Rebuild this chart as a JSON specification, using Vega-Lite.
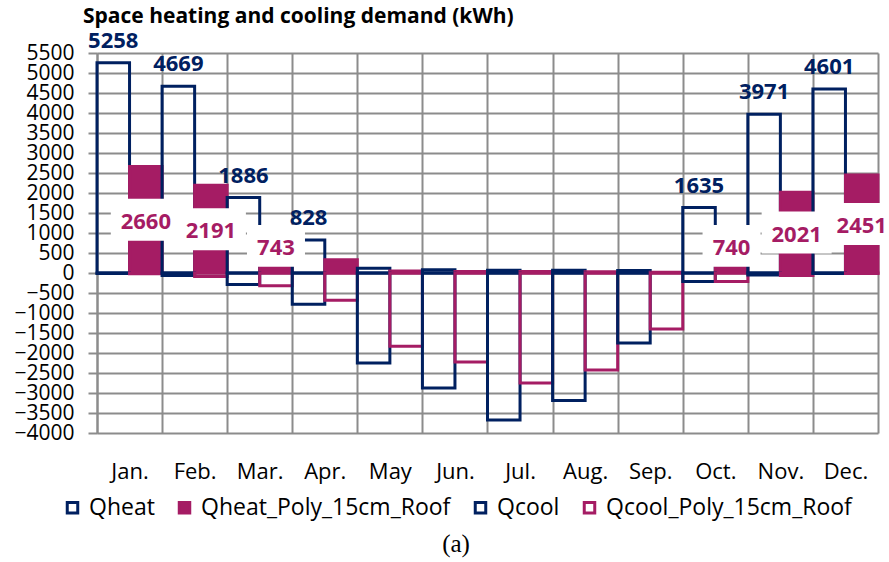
{
  "$schema": "https://vega.github.io/schema/vega-lite/v6.json",
  "width": 781,
  "height": 380,
  "autosize": {"type": "none"},
  "padding": {"left": 97, "top": 53, "right": 11, "bottom": 129},
  "background": "white",
  "title": {"text": "Space heating and cooling demand (kWh)", "anchor": "start", "frame": "group", "dx": -14, "offset": 3, "font": "Open Sans", "fontSize": 21, "fontWeight": "bold", "color": "black"},
  "data": {"values": [
    {"month": "Jan.", "Qheat": 5258, "Qheat_Poly_15cm_Roof": 2660, "Qcool": -10, "Qcool_Poly_15cm_Roof": -20},
    {"month": "Feb.", "Qheat": 4669, "Qheat_Poly_15cm_Roof": 2191, "Qcool": -60, "Qcool_Poly_15cm_Roof": -90},
    {"month": "Mar.", "Qheat": 1886, "Qheat_Poly_15cm_Roof": 743, "Qcool": -290, "Qcool_Poly_15cm_Roof": -320},
    {"month": "Apr.", "Qheat": 828, "Qheat_Poly_15cm_Roof": 330, "Qcool": -780, "Qcool_Poly_15cm_Roof": -680},
    {"month": "May", "Qheat": 120, "Qheat_Poly_15cm_Roof": 50, "Qcool": -2250, "Qcool_Poly_15cm_Roof": -1830},
    {"month": "Jun.", "Qheat": 80, "Qheat_Poly_15cm_Roof": 40, "Qcool": -2875, "Qcool_Poly_15cm_Roof": -2225},
    {"month": "Jul.", "Qheat": 70, "Qheat_Poly_15cm_Roof": 40, "Qcool": -3675, "Qcool_Poly_15cm_Roof": -2750},
    {"month": "Aug.", "Qheat": 70, "Qheat_Poly_15cm_Roof": 30, "Qcool": -3190, "Qcool_Poly_15cm_Roof": -2425},
    {"month": "Sep.", "Qheat": 60, "Qheat_Poly_15cm_Roof": 20, "Qcool": -1750, "Qcool_Poly_15cm_Roof": -1400},
    {"month": "Oct.", "Qheat": 1635, "Qheat_Poly_15cm_Roof": 740, "Qcool": -215, "Qcool_Poly_15cm_Roof": -210},
    {"month": "Nov.", "Qheat": 3971, "Qheat_Poly_15cm_Roof": 2021, "Qcool": -50, "Qcool_Poly_15cm_Roof": -60},
    {"month": "Dec.", "Qheat": 4601, "Qheat_Poly_15cm_Roof": 2451, "Qcool": -10, "Qcool_Poly_15cm_Roof": -15}
  ]},
  "transform": [
    {"fold": ["Qheat", "Qheat_Poly_15cm_Roof", "Qcool", "Qcool_Poly_15cm_Roof"], "as": ["series", "value"]},
    {"calculate": "indexof(datum.series, 'Poly') >= 0 ? 'poly' : 'base'", "as": "variant"}
  ],
  "encoding": {
    "x": {
      "field": "month", "type": "nominal",
      "sort": ["Jan.", "Feb.", "Mar.", "Apr.", "May", "Jun.", "Jul.", "Aug.", "Sep.", "Oct.", "Nov.", "Dec."],
      "scale": {"paddingInner": 0, "paddingOuter": 0},
      "axis": {"title": null, "labelAngle": 0, "ticks": false, "domain": false, "grid": true, "tickBand": "extent", "gridColor": "#8c8c8c", "gridWidth": 2, "labelFont": "Open Sans", "labelFontSize": 22, "labelColor": "black", "labelPadding": 28}
    },
    "xOffset": {"field": "variant", "type": "nominal", "sort": ["base", "poly"]},
    "y": {
      "field": "value", "type": "quantitative", "stack": null,
      "scale": {"domain": [-4000, 5500], "nice": false},
      "axis": {"title": null, "values": [-4000, -3500, -3000, -2500, -2000, -1500, -1000, -500, 0, 500, 1000, 1500, 2000, 2500, 3000, 3500, 4000, 4500, 5000, 5500], "format": "d", "labelOverlap": false, "grid": true, "gridColor": "#8c8c8c", "gridWidth": 2, "tickColor": "#8c8c8c", "tickWidth": 2, "tickSize": 9, "domain": true, "domainColor": "#8c8c8c", "domainWidth": 2, "labelFont": "Open Sans", "labelFontSize": 21, "labelColor": "black", "labelPadding": 14}
    }
  },
  "layer": [
    {
      "mark": {"type": "bar", "strokeWidth": 3, "fillOpacity": 1},
      "encoding": {
        "fill": {"field": "series", "type": "nominal", "title": "(a)", "scale": {"domain": ["Qheat", "Qheat_Poly_15cm_Roof", "Qcool", "Qcool_Poly_15cm_Roof"], "range": ["transparent", "#A51C64", "transparent", "transparent"]}},
        "stroke": {"field": "series", "type": "nominal", "title": "(a)", "scale": {"domain": ["Qheat", "Qheat_Poly_15cm_Roof", "Qcool", "Qcool_Poly_15cm_Roof"], "range": ["#002060", "#A51C64", "#002060", "#A51C64"]}}
      }
    },
    {
      "transform": [{"filter": "datum.series == 'Qheat_Poly_15cm_Roof' && datum.value >= 1000"}, {"calculate": "max(datum.value / 2, 680)", "as": "mid"}],
      "mark": {"type": "point", "shape": "M-1,-0.6H1V0.6H-1Z", "size": 4900, "filled": true, "fill": "white", "opacity": 1, "strokeWidth": 0},
      "encoding": {"y": {"field": "mid", "type": "quantitative"}}
    },
    {
      "transform": [{"filter": "datum.series == 'Qheat_Poly_15cm_Roof' && datum.value >= 700 && datum.value < 1000"}, {"calculate": "max(datum.value / 2, 680)", "as": "mid"}],
      "mark": {"type": "point", "shape": "M-1,-0.72H1V0.72H-1Z", "size": 3364, "filled": true, "fill": "white", "opacity": 1, "strokeWidth": 0},
      "encoding": {"y": {"field": "mid", "type": "quantitative"}}
    },
    {
      "transform": [{"filter": "datum.series == 'Qheat_Poly_15cm_Roof' && datum.value >= 700"}, {"calculate": "max(datum.value / 2, 680)", "as": "mid"}],
      "mark": {"type": "text", "font": "Open Sans", "fontSize": 22, "fontWeight": "bold", "color": "#A51C64", "baseline": "middle", "dy": 2},
      "encoding": {"y": {"field": "mid", "type": "quantitative"}, "text": {"field": "value", "type": "quantitative", "format": "d"}}
    },
    {
      "transform": [{"filter": "datum.series == 'Qheat' && datum.value >= 700"}],
      "mark": {"type": "text", "font": "Open Sans", "fontSize": 22, "fontWeight": "bold", "color": "#002060", "baseline": "alphabetic", "dy": -15},
      "encoding": {"text": {"field": "value", "type": "quantitative", "format": "d"}}
    }
  ],
  "config": {
    "view": {"stroke": null},
    "legend": {
      "orient": "none", "legendX": -36, "legendY": 443, "direction": "horizontal",
      "symbolType": "square", "symbolSize": 110, "symbolStrokeWidth": 3,
      "labelFont": "Open Sans", "labelFontSize": 23, "labelColor": "black", "labelOffset": 5, "labelLimit": 400,
      "columnPadding": 18,
      "titleOrient": "bottom", "titleAnchor": "middle", "titleFont": "Liberation Serif", "titleFontSize": 25, "titleFontWeight": "normal", "titleColor": "black", "titlePadding": 12
    }
  }
}
